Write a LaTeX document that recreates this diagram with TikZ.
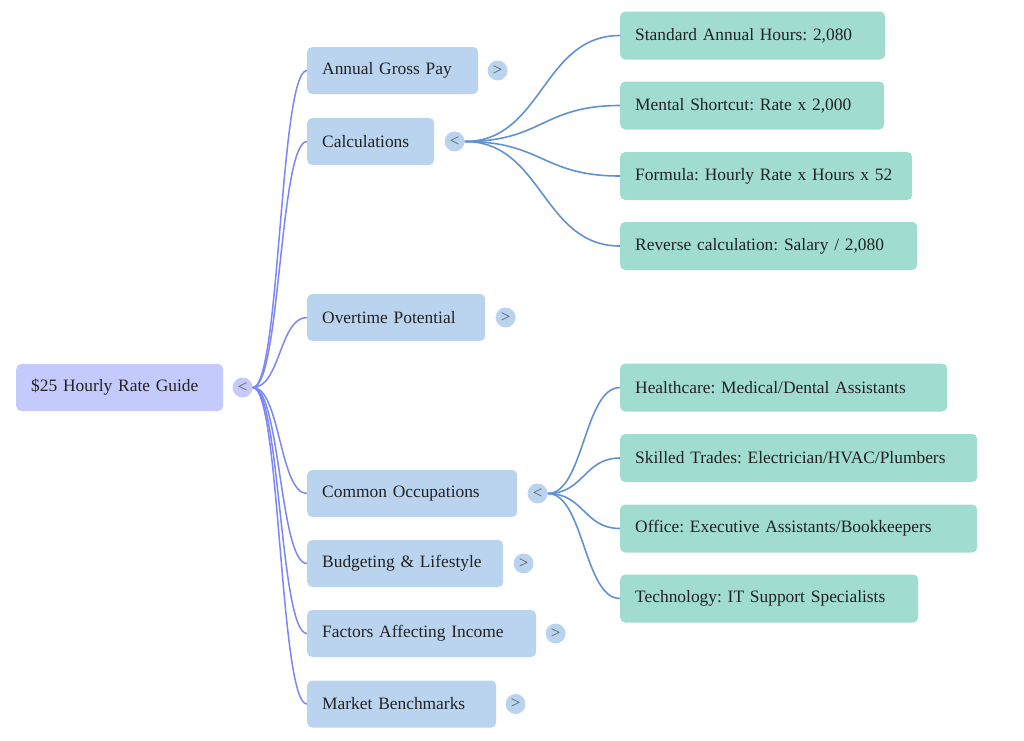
\documentclass[tikz,border=0pt]{standalone}
\usepackage{fontspec}
\setmainfont{Liberation Serif}
\usetikzlibrary{positioning}
\definecolor{mmroot}{RGB}{197,202,253}
\definecolor{mmcat}{RGB}{186,212,239}
\definecolor{mmleaf}{RGB}{161,220,208}
\definecolor{mmlink}{RGB}{123,134,247}
\definecolor{mmsub}{RGB}{96,146,210}
\definecolor{mmtext}{RGB}{34,34,34}
\frenchspacing

\begin{document}
\begin{tikzpicture}[
    x=1pt, y=-1pt,
    box/.style={rounded corners=5pt, inner xsep=15pt, inner ysep=0pt, minimum height=47pt,
                align=left, anchor=west, font=\fontsize{17.4}{20}\selectfont, text=mmtext},
    rootbox/.style={box, fill=mmroot},
    catbox/.style={box, fill=mmcat},
    leafbox/.style={box, fill=mmleaf, minimum height=48pt},
    toggle/.style={circle, minimum size=20pt, inner sep=0pt, text=black!65,
                   font=\fontsize{17}{17}\selectfont},
    link/.style={draw=mmlink, line width=1.5pt},
    sublink/.style={draw=mmsub, line width=1.6pt},
  ]
  \useasboundingbox (0,0) rectangle (1024,740);

  %% ================= root =================
  \node[rootbox, text width=177pt] (root) at (16,387.5) {\$25 Hourly Rate Guide};
  \node[toggle, fill=mmroot, right=9pt of root] (troot) {<};

  %% ================= first level =================
  \node[catbox, text width=141pt] (gross)    at (307,70.5)  {Annual Gross Pay};
  \node[catbox, text width=97pt]  (calc)     at (307,141.5) {Calculations};
  \node[catbox, text width=148pt] (overtime) at (307,317.5) {Overtime Potential};
  \node[catbox, text width=180pt] (jobs)     at (307,493.5) {Common Occupations};
  \node[catbox, text width=166pt] (budget)   at (307,563.5) {Budgeting \& Lifestyle};
  \node[catbox, text width=199pt] (factors)  at (307,633.5) {Factors Affecting Income};
  \node[catbox, text width=159pt] (bench)    at (307,704)   {Market Benchmarks};

  \node[toggle, fill=mmcat, right=9pt of gross]     (tgross)    {>};
  \node[toggle, fill=mmcat, right=10pt of calc]     (tcalc)     {<};
  \node[toggle, fill=mmcat, right=10pt of overtime] (tovertime) {>};
  \node[toggle, fill=mmcat, right=10pt of jobs]     (tjobs)     {<};
  \node[toggle, fill=mmcat, right=10pt of budget]   (tbudget)   {>};
  \node[toggle, fill=mmcat, right=9pt of factors]   (tfactors)  {>};
  \node[toggle, fill=mmcat, right=9pt of bench]     (tbench)    {>};

  %% ================= leaves =================
  \node[leafbox, text width=235pt] (hours)    at (620,35.5)  {Standard Annual Hours: 2,080};
  \node[leafbox, text width=234pt] (shortcut) at (620,105.5) {Mental Shortcut: Rate x 2,000};
  \node[leafbox, text width=262pt] (formula)  at (620,176)   {Formula: Hourly Rate x Hours x 52};
  \node[leafbox, text width=267pt] (reverse)  at (620,246)   {Reverse calculation: Salary / 2,080};

  \node[leafbox, text width=297pt] (health)   at (620,387.5) {Healthcare: Medical/Dental Assistants};
  \node[leafbox, text width=327pt] (trades)   at (620,458)   {Skilled Trades: Electrician/HVAC/Plumbers};
  \node[leafbox, text width=327pt] (office)   at (620,528.5) {Office: Executive Assistants/Bookkeepers};
  \node[leafbox, text width=268pt] (tech)     at (620,598.5) {Technology: IT Support Specialists};

  %% ================= links =================
  \foreach \c in {gross,calc,overtime,jobs,budget,factors,bench} {
    \draw[link] (troot.east) .. controls +(27.5,0) and +(-27.5,0) .. (\c.west);
  }
  \foreach \l in {hours,shortcut,formula,reverse} {
    \draw[sublink] (tcalc.east) .. controls +(78,0) and +(-78,0) .. (\l.west);
  }
  \foreach \l in {health,trades,office,tech} {
    \draw[sublink] (tjobs.east) .. controls +(36,0) and +(-36,0) .. (\l.west);
  }

\end{tikzpicture}
\end{document}
